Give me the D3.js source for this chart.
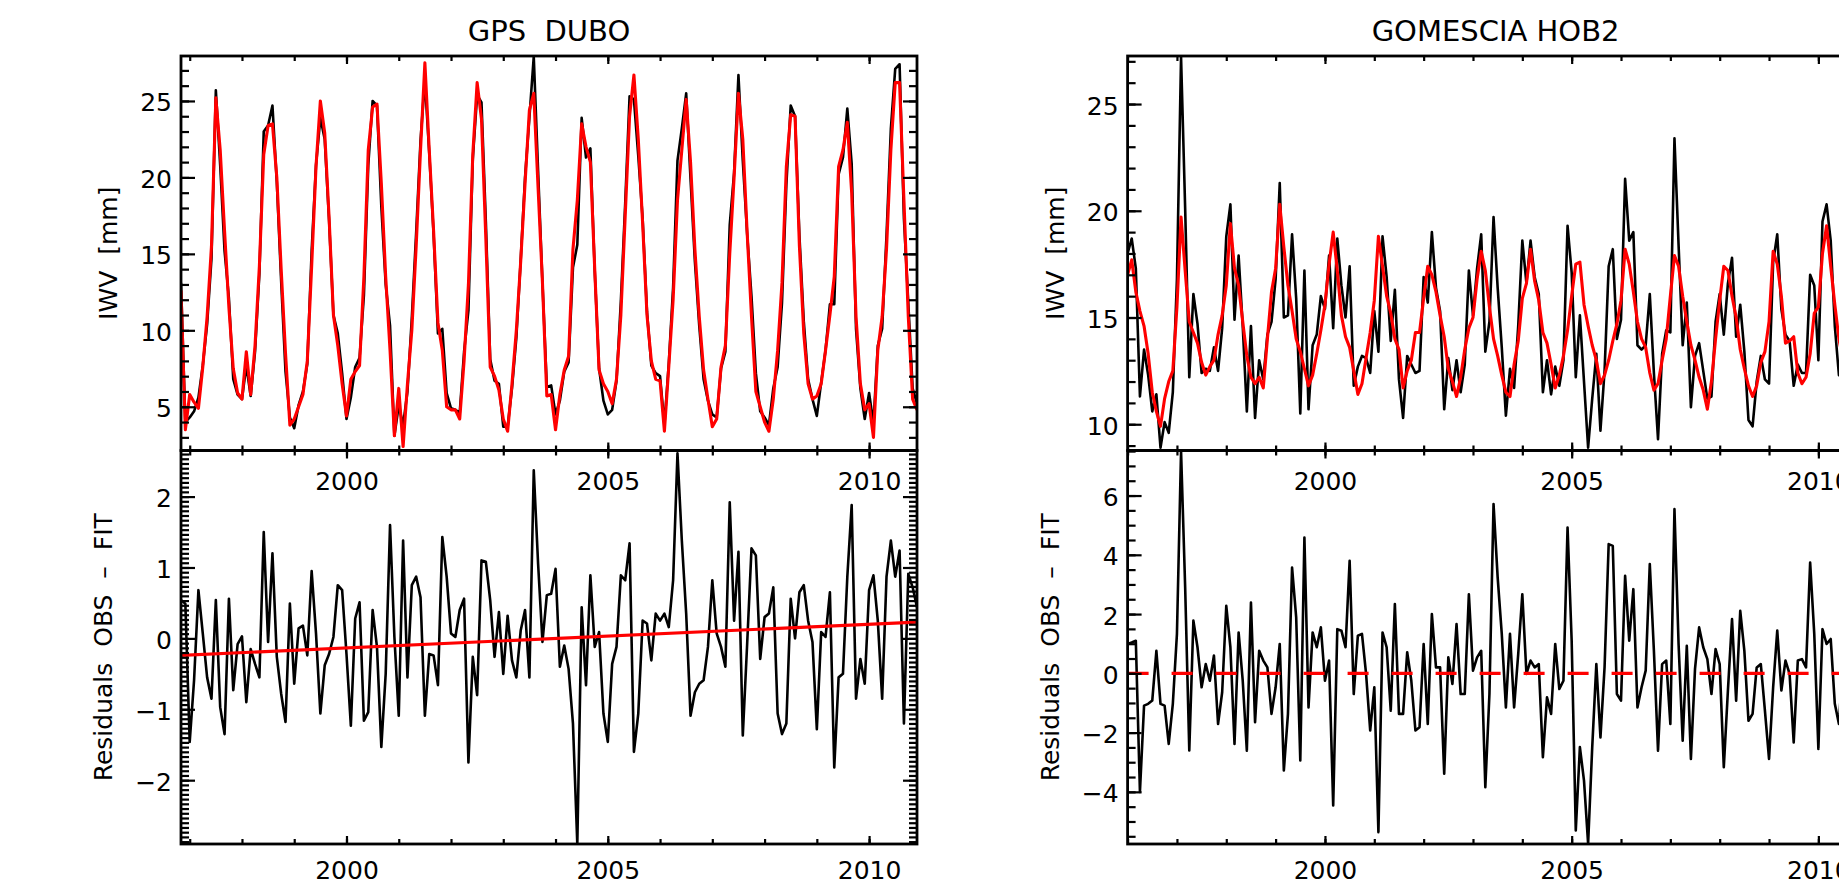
<!DOCTYPE html>
<html>
<head>
<meta charset="utf-8">
<script src="https://cdn.jsdelivr.net/npm/d3@7"></script>
<style>
  body { margin: 0; background: #fff; }
  text { font-family: "DejaVu Sans", sans-serif; }
</style>
</head>
<body>
<div id="d3-container"></div>
<script>
// monthly series, DUBO starts Nov 1996, HOB2 starts Jan 1996
const dubStart = 1996 + 10 / 12;
const hobStart = 1996;

const dubObs = [
  13.1, 4.0,
  4.3, 4.7, 5.6, 7.7, 10.4, 14.7, 25.7, 20.8, 15.2, 12.1, 6.8, 5.8,
  5.5, 7.7, 5.7, 8.6, 13.7, 23.0, 23.4, 24.7, 19.7, 13.2, 7.3, 4.3,
  3.6, 5.1, 6.0, 7.8, 15.2, 20.8, 23.9, 22.5, 17.2, 11.0, 9.8, 7.2,
  4.2, 5.6, 7.6, 8.2, 12.3, 20.8, 25.0, 24.7, 18.1, 13.0, 10.3, 3.1,
  5.1, 3.8, 6.0, 10.8, 16.4, 22.4, 26.4, 21.6, 16.3, 9.8, 10.1, 5.9,
  4.9, 4.8, 4.6, 8.6, 11.3, 21.2, 25.4, 24.9, 17.1, 8.1, 6.7, 6.5,
  3.7, 3.7, 6.2, 9.5, 14.6, 20.0, 23.9, 27.9, 20.4, 13.1, 6.3, 6.4,
  4.5, 5.4, 7.3, 7.9, 14.1, 15.6, 23.9, 21.3, 21.9, 13.9, 7.5, 5.4,
  4.5, 4.8, 6.7, 11.9, 18.3, 25.3, 25.1, 21.4, 17.3, 11.2, 7.7, 7.2,
  7.0, 3.8, 7.8, 12.8, 21.1, 23.2, 25.5, 19.9, 14.5, 10.3, 6.8, 5.4,
  4.5, 4.3, 7.5, 8.6, 16.9, 20.3, 26.7, 21.1, 16.3, 12.2, 7.2, 4.7,
  4.3, 3.8, 6.2, 7.6, 11.8, 19.5, 24.7, 24.0, 16.2, 10.6, 6.8, 5.5,
  4.4, 6.6, 8.7, 11.7, 11.7, 20.2, 21.3, 24.5, 20.9, 10.1, 6.2, 4.2,
  5.9, 3.9, 9.0, 10.1, 16.2, 23.2, 27.1, 27.4, 17.3, 11.8, 6.2, 5.2
];
const dubFit = [
  12.6, 3.5,
  5.8, 5.3, 4.9, 7.6, 10.9, 15.5, 25.2, 21.8, 16.5, 11.5, 7.5, 5.9,
  5.5, 8.6, 5.8, 9.0, 14.2, 21.5, 23.4, 23.5, 20.0, 14.0, 8.5, 3.8,
  4.2, 5.0, 5.8, 8.0, 14.2, 20.7, 25.0, 22.9, 17.4, 11.0, 9.0, 6.5,
  4.4, 6.8, 7.3, 7.7, 13.5, 21.8, 24.6, 24.8, 19.6, 13.5, 8.7, 3.1,
  6.2, 2.4, 6.5, 10.0, 15.5, 21.8, 27.5, 21.8, 16.5, 10.5, 8.7, 5.0,
  4.8, 4.8, 4.2, 8.0, 13.0, 21.5, 26.2, 23.8, 16.0, 7.6, 7.0, 6.1,
  4.2, 3.4, 6.5, 10.0, 14.5, 19.6, 24.4, 25.5, 19.3, 13.1, 5.7, 5.8,
  3.5, 5.8, 7.4, 8.3, 15.3, 18.5, 23.5, 22.0, 21.0, 14.0, 7.4, 6.5,
  6.0, 5.2, 6.8, 11.0, 17.5, 24.0, 26.7, 22.5, 17.0, 11.0, 8.0, 6.8,
  6.7, 3.4, 7.6, 12.0, 18.5, 21.8, 25.1, 21.0, 15.3, 10.9, 7.4, 5.5,
  3.7, 4.2, 7.6, 9.0, 15.0, 20.0, 25.5, 22.5, 16.4, 10.9, 6.0, 5.0,
  4.0, 3.4, 5.5, 8.7, 13.1, 20.7, 24.1, 24.0, 15.5, 9.8, 6.5, 5.5,
  5.7, 6.5, 8.7, 11.0, 13.5, 20.7, 21.8, 23.6, 19.0, 10.9, 6.5, 4.8,
  5.2, 3.0, 8.7, 10.9, 15.3, 21.8, 26.2, 26.2, 18.5, 10.9, 5.5, 4.8
];
const dubRes = [
  0.54, 0.49, -1.46, -0.59, 0.68, 0.07, -0.55, -0.85, 0.54, -0.97, -1.35, 0.56, -0.73, -0.08,
  0.03, -0.90, -0.15, -0.36, -0.55, 1.50, -0.05, 1.20, -0.26, -0.78, -1.18, 0.49,
  -0.64, 0.14, 0.18, -0.24, 0.95, 0.07, -1.06, -0.38, -0.22, 0.02, 0.75, 0.68,
  -0.22, -1.23, 0.28, 0.51, -1.16, -1.04, 0.40, -0.12, -1.53, -0.50, 1.60, 0.02,
  -1.09, 1.38, -0.55, 0.75, 0.87, 0.58, -1.09, -0.22, -0.24, -0.66, 1.43, 0.87,
  0.07, 0.02, 0.40, 0.56, -1.75, -0.26, -0.80, 1.10, 1.08, 0.54, -0.26, 0.37,
  -0.50, 0.32, -0.31, -0.55, 0.11, 0.40, -0.55, 2.37, 1.05, -0.05, 0.61, 0.63,
  0.98, -0.40, -0.10, -0.43, -1.20, -2.90, 0.44, -0.66, 0.89, -0.12, 0.09, -1.06,
  -1.46, -0.36, -0.12, 0.89, 0.82, 1.34, -1.60, -1.06, 0.25, 0.21, -0.31, 0.35,
  0.25, 0.35, 0.16, 0.82, 2.61, 1.38, 0.35, -1.09, -0.76, -0.64, -0.59, -0.12,
  0.82, 0.07, -0.12, -0.40, 1.92, 0.25, 1.22, -1.37, -0.08, 1.27, 1.17, -0.29,
  0.30, 0.35, 0.72, -1.06, -1.35, -1.20, 0.56, 0.00, 0.65, 0.75, 0.25, -0.05,
  -1.28, 0.09, 0.02, 0.65, -1.82, -0.55, -0.50, 0.87, 1.88, -0.85, -0.29, -0.64,
  0.68, 0.89, 0.25, -0.85, 0.87, 1.38, 0.87, 1.24, -1.20, 0.91, 0.72, 0.44
];
const dubTrend = [-0.24, 0.23];

const hobObs = [
  18.0, 18.7, 17.3, 11.3, 13.5, 12.3, 10.6, 11.4, 8.9, 10.1, 9.6, 11.5,
  16.8, 27.2, 20.1, 12.2, 16.1, 14.7, 12.4, 12.6, 12.5, 13.6, 12.5, 14.5,
  18.8, 20.3, 14.9, 17.9, 14.6, 10.6, 14.6, 10.3, 13.0, 12.1, 14.2, 14.8,
  16.8, 21.3, 15.0, 15.1, 18.9, 15.9, 10.5, 17.2, 10.7, 13.7, 14.2, 16.0,
  15.4, 17.9, 14.5, 18.7, 16.5, 15.0, 17.4, 11.8, 12.7, 13.2, 13.1, 12.4,
  15.3, 13.4, 18.8, 16.9, 13.9, 16.3, 12.1, 10.3, 13.2, 12.8, 12.4, 12.5,
  16.9, 15.7, 19.0, 16.4, 15.3, 10.7, 13.1, 11.6, 13.0, 11.5, 12.8, 17.2,
  15.1, 17.3, 18.9, 13.4, 14.8, 19.7, 16.4, 13.6, 10.4, 12.6, 11.7, 14.6,
  18.6, 16.6, 18.6, 16.9, 16.1, 11.5, 13.0, 11.4, 12.7, 11.8, 13.0, 19.3,
  17.1, 12.2, 15.1, 12.0, 8.9, 11.2, 13.3, 9.7, 12.5, 17.4, 18.2, 14.0,
  14.9, 21.5, 18.6, 19.0, 13.7, 13.5, 13.7, 16.1, 12.4, 9.3, 13.3, 14.4,
  14.3, 23.4, 18.4, 13.7, 15.7, 10.8, 13.2, 13.8, 12.5, 11.2, 11.3, 14.8,
  16.1, 14.2, 16.6, 17.8, 14.1, 15.6, 13.4, 10.2, 9.9, 12.0, 13.2, 12.1,
  11.9, 17.6, 18.9, 15.4, 14.2, 13.9, 11.8, 12.8, 12.4, 12.4, 17.0, 16.5,
  13.0, 19.5, 20.3, 18.6, 14.6, 12.3, 13.5, 11.5, 13.0, 12.0, 14.2, 14.0
];
const hobFit = [
  17.0, 17.7, 16.2, 15.3, 14.6, 13.3, 11.5, 10.6, 9.9, 11.2, 12.0, 12.5,
  15.5, 19.7, 17.2, 14.8, 14.3, 13.8, 12.9, 12.3, 12.7, 13.0, 14.2, 15.1,
  16.5, 19.4, 17.3, 16.5, 14.8, 13.2, 12.2, 11.9, 12.2, 11.7, 14.0, 16.2,
  17.3, 20.3, 18.3, 16.5, 15.3, 14.0, 13.4, 12.6, 11.8, 12.3, 13.3, 14.4,
  15.6, 17.5, 19.0, 17.2, 15.1, 14.1, 13.6, 12.5, 11.4, 11.9, 13.1, 14.3,
  15.8, 18.8, 17.4, 16.0, 15.2, 14.0, 13.5, 11.7, 12.5, 13.0, 14.3, 14.3,
  15.9, 17.4, 17.0, 16.2, 15.1, 14.1, 12.6, 12.0, 11.3, 12.2, 13.5, 14.5,
  15.0, 16.8, 18.1, 17.2, 15.5, 14.0, 13.2, 12.3, 11.5, 11.3, 12.8, 13.9,
  15.9, 16.6, 18.2, 16.7, 15.8, 14.3, 13.8, 12.8, 11.7, 12.3, 13.2, 14.4,
  16.0, 17.5, 17.6, 15.6, 14.6, 13.7, 13.0, 11.9, 12.3, 13.0, 13.9, 14.7,
  15.8, 18.2, 17.5, 16.2, 14.8, 14.0, 13.6, 12.4, 11.6, 11.9, 13.0, 14.0,
  16.0, 17.9, 17.4, 16.0, 14.8, 13.7, 13.0, 12.2, 11.6, 10.7, 12.0, 14.0,
  15.8, 17.4, 17.2, 16.0, 15.0, 13.5, 12.6, 11.8, 11.3, 11.8, 12.9, 13.4,
  14.8, 18.1, 17.5, 16.0, 13.8, 13.9, 14.1, 12.4, 11.9, 12.2, 13.3, 15.2,
  15.5, 18.0, 19.3, 17.4, 15.6, 14.0, 13.0, 12.3, 11.8, 12.3, 13.6, 15.0
];
const hobRes = [
  0.99, 1.04, 1.10, -4.00, -1.09, -1.03, -0.92, 0.76, -1.03, -1.09, -2.38, -1.03,
  1.33, 7.50, 2.90, -2.60, 1.78, 0.88, -0.47, 0.31, -0.25, 0.60, -1.71, -0.64,
  2.28, 0.88, -2.38, 1.38, -0.25, -2.61, 2.39, -1.65, 0.76, 0.43, 0.20, -1.37,
  -0.47, 0.99, -3.28, -1.37, 3.57, 1.89, -2.94, 4.58, -1.15, 1.38, 0.88, 1.55,
  -0.25, 0.43, -4.46, 1.49, 1.44, 0.88, 3.80, -0.70, 1.27, 1.33, -0.02, -1.93,
  -0.47, -5.36, 1.38, 0.88, -1.26, 2.34, -1.37, -1.37, 0.71, -0.25, -1.93, -1.82,
  0.99, -1.71, 2.00, 0.20, 0.20, -3.39, 0.54, -0.36, 1.66, -0.70, -0.70, 2.67,
  0.09, 0.54, 0.76, -3.84, -0.70, 5.71, 3.24, 1.33, -1.15, 1.33, -1.15, 0.65,
  2.67, -0.02, 0.43, 0.20, 0.31, -2.83, -0.81, -1.37, 0.99, -0.53, -0.25, 4.92,
  1.10, -5.30, -2.49, -3.62, -5.75, -2.49, 0.31, -2.16, 0.20, 4.36, 4.30, -0.70,
  -0.92, 3.29, 1.10, 2.84, -1.15, -0.47, 0.09, 3.69, 0.76, -2.61, 0.31, 0.43,
  -1.71, 5.54, 0.99, -2.27, 0.93, -2.89, 0.15, 1.55, 0.88, 0.48, -0.70, 0.82,
  0.31, -3.17, -0.58, 1.83, -0.92, 2.11, 0.76, -1.60, -1.37, 0.20, 0.31, -1.26,
  -2.89, -0.47, 1.44, -0.58, 0.43, -0.02, -2.33, 0.43, 0.48, 0.20, 3.74, 1.33,
  -2.55, 1.49, 0.99, 1.16, -1.03, -1.71, 0.50, -0.80, 1.20, -0.30, 0.60, -1.00
];
const hobTrend = [0, 0];

// axis ranges and tick labels
const dubYears = [dubStart, 2010 + 11 / 12];
const hobYears = [hobStart, 2010 + 11 / 12];
const dubIwvRange = [2.14, 27.94];
const dubResRange = [-2.9, 2.65];
const hobIwvRange = [8.77, 27.25];
const hobResRange = [-5.76, 7.52];
const yearLabels = [2000, 2005, 2010];
const dubIwvTicks = [5, 10, 15, 20, 25];
const dubResTicks = [-2, -1, 0, 1, 2];
const hobIwvTicks = [10, 15, 20, 25];
const hobResTicks = [-4, -2, 0, 2, 4, 6];

const width = 1839;
const height = 885;
const yTop = 56, yMid = 450.5, yBot = 844;

const svg = d3.select('#d3-container')
  .append('svg')
  .attr('width', width)
  .attr('height', height)
  .style('display', 'block');

function clean(g) {
  g.select('.domain').remove();
  g.attr('font-family', null).attr('font-size', 25);
  g.selectAll('line').attr('stroke', '#000').attr('stroke-width', 2.2);
  g.selectAll('text').attr('fill', '#000');
}

function yAxes(scale, left, right, major, minorStep) {
  const [d0, d1] = scale.domain();
  const minor = d3.range(Math.ceil(d0 / minorStep - 1e-6) * minorStep, d1, minorStep);
  svg.append('g').attr('transform', `translate(${left},0)`)
    .call(d3.axisLeft(scale).tickValues(minor).tickSize(-8).tickFormat(''))
    .call(clean);
  svg.append('g').attr('transform', `translate(${left},0)`)
    .call(d3.axisLeft(scale).tickValues(major).tickSize(-14).tickPadding(9).tickFormat(d3.format('d')))
    .call(clean)
    .call(g => g.selectAll('text').attr('dy', '0.4em'));
  svg.append('g').attr('transform', `translate(${right},0)`)
    .call(d3.axisRight(scale).tickValues(minor).tickSize(-8).tickFormat(''))
    .call(clean);
  svg.append('g').attr('transform', `translate(${right},0)`)
    .call(d3.axisRight(scale).tickValues(major).tickSize(-14).tickFormat(''))
    .call(clean);
}

function xAxes(x, yUp, yDown, pad) {
  const years = d3.range(Math.ceil(x.domain()[0]), x.domain()[1]);
  // ticks hanging down from the upper frame line
  svg.append('g').attr('transform', `translate(0,${yUp})`)
    .call(d3.axisTop(x).tickValues(years).tickSize(-5).tickFormat(''))
    .call(clean);
  svg.append('g').attr('transform', `translate(0,${yUp})`)
    .call(d3.axisTop(x).tickValues(yearLabels).tickSize(-8).tickFormat(''))
    .call(clean);
  // ticks pointing up from the lower frame line, with labels below
  svg.append('g').attr('transform', `translate(0,${yDown})`)
    .call(d3.axisBottom(x).tickValues(years).tickSize(-5).tickFormat(''))
    .call(clean);
  svg.append('g').attr('transform', `translate(0,${yDown})`)
    .call(d3.axisBottom(x).tickValues(yearLabels).tickSize(-8).tickPadding(pad).tickFormat(d3.format('d')))
    .call(clean);
}

function panel(p) {
  const x = d3.scaleLinear().domain(p.years).range([p.left, p.right]);
  const yIwv = d3.scaleLinear().domain(p.iwvRange).range([yMid, yTop]);
  const yRes = d3.scaleLinear().domain(p.resRange).range([yBot, yMid]);
  const month = i => p.start + i / 12;

  const clipTop = p.id + '-top', clipBot = p.id + '-bot';
  const defs = svg.append('defs');
  defs.append('clipPath').attr('id', clipTop).append('rect')
    .attr('x', p.left).attr('y', yTop).attr('width', p.right - p.left).attr('height', yMid - yTop);
  defs.append('clipPath').attr('id', clipBot).append('rect')
    .attr('x', p.left).attr('y', yMid).attr('width', p.right - p.left).attr('height', yBot - yMid);

  const lineIwv = d3.line().x((d, i) => x(month(i))).y(d => yIwv(d));
  const lineRes = d3.line().x((d, i) => x(month(i))).y(d => yRes(d));

  const top = svg.append('g').attr('clip-path', `url(#${clipTop})`);
  top.append('path').datum(p.obs).attr('d', lineIwv)
    .attr('fill', 'none').attr('stroke', '#000').attr('stroke-width', 2.6).attr('stroke-linejoin', 'round');
  top.append('path').datum(p.fit).attr('d', lineIwv)
    .attr('fill', 'none').attr('stroke', '#ff0000').attr('stroke-width', 3.1).attr('stroke-linejoin', 'round');

  const bot = svg.append('g').attr('clip-path', `url(#${clipBot})`);
  bot.append('path').datum(p.res).attr('d', lineRes)
    .attr('fill', 'none').attr('stroke', '#000').attr('stroke-width', 2.6).attr('stroke-linejoin', 'round');
  bot.append('line')
    .attr('x1', x(p.years[0])).attr('x2', x(p.years[1]))
    .attr('y1', yRes(p.trend[0])).attr('y2', yRes(p.trend[1]))
    .attr('stroke', '#ff0000').attr('stroke-width', 3.2)
    .attr('stroke-dasharray', p.dashed ? '21,23' : null);

  // frames
  [[yTop, yMid], [yMid, yBot]].forEach(([a, b]) => {
    svg.append('rect')
      .attr('x', p.left).attr('y', a).attr('width', p.right - p.left).attr('height', b - a)
      .attr('fill', 'none').attr('stroke', '#000').attr('stroke-width', 2.8);
  });

  yAxes(yIwv, p.left, p.right, p.iwvTicks, 1);
  yAxes(yRes, p.left, p.right, p.resTicks, p.resMinor);
  xAxes(x, yTop, yMid, 21.5);
  xAxes(x, yMid, yBot, 17.2);

  svg.append('text')
    .attr('x', (p.left + p.right) / 2).attr('y', 41)
    .attr('text-anchor', 'middle').attr('font-size', 29)
    .style('white-space', 'pre')
    .text(p.title);

  svg.append('text')
    .attr('transform', `translate(${p.left - 64},${(yTop + yMid) / 2}) rotate(-90)`)
    .attr('text-anchor', 'middle').attr('font-size', 25)
    .style('white-space', 'pre')
    .text('IWV  [mm]');

  svg.append('text')
    .attr('transform', `translate(${p.left - 69},${(yMid + yBot) / 2}) rotate(-90)`)
    .attr('text-anchor', 'middle').attr('font-size', 25)
    .style('white-space', 'pre')
    .text('Residuals  OBS  \u2013  FIT');
}

panel({
  id: 'dubo', title: 'GPS  DUBO', left: 181, right: 917,
  start: dubStart, years: dubYears,
  iwvRange: dubIwvRange, resRange: dubResRange,
  iwvTicks: dubIwvTicks, resTicks: dubResTicks, resMinor: 1 / 15,
  obs: dubObs, fit: dubFit, res: dubRes, trend: dubTrend, dashed: false
});

panel({
  id: 'hob2', title: 'GOMESCIA HOB2', left: 1127.6, right: 1863.6,
  start: hobStart, years: hobYears,
  iwvRange: hobIwvRange, resRange: hobResRange,
  iwvTicks: hobIwvTicks, resTicks: hobResTicks, resMinor: 0.5,
  obs: hobObs, fit: hobFit, res: hobRes, trend: hobTrend, dashed: true
});
</script>
</body>
</html>
